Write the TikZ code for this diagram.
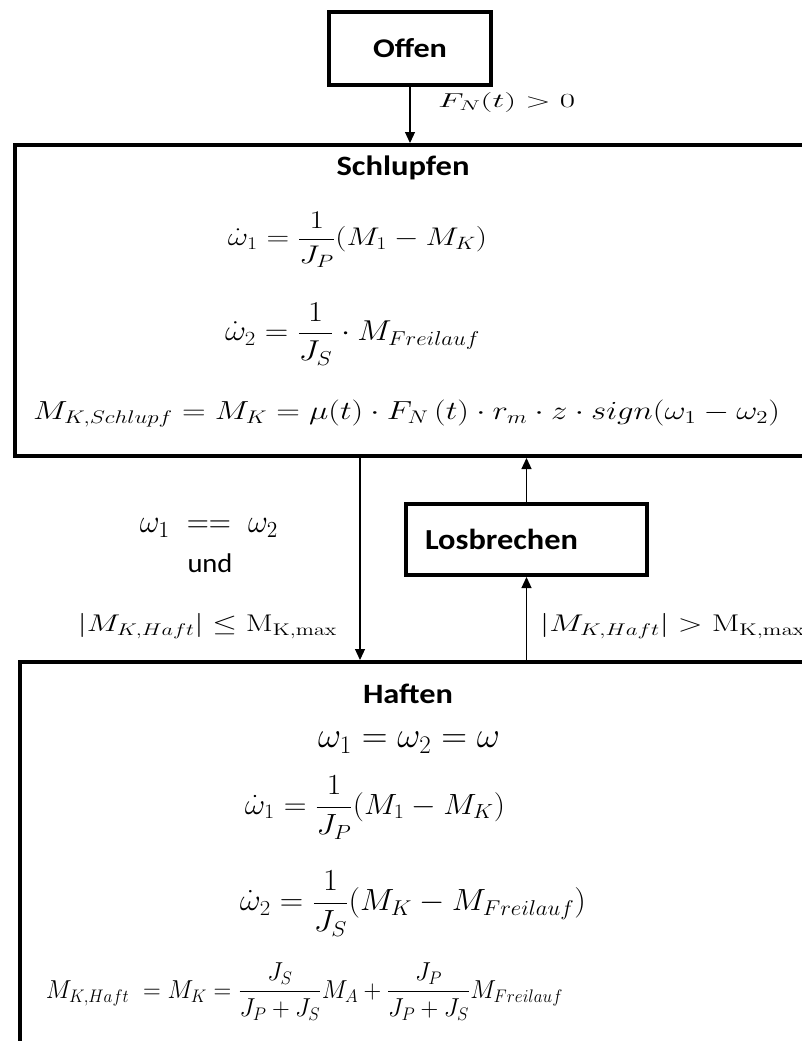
\RequirePackage{fix-cm}
\documentclass[tikz,border=0pt]{standalone}
\usepackage{amsmath}
\usepackage{graphicx}
\usepackage[no-math]{fontspec}
\setmainfont{Carlito}
\usetikzlibrary{arrows.meta}
\newcommand{\fitw}[2]{\resizebox{#1}{\height}{#2}}
\newcommand{\fitb}[3]{\resizebox*{#1}{#2}{#3}}
\newcommand{\mfs}[1]{\fontsize{#1}{#1}\selectfont}
\begin{document}
\begin{tikzpicture}[x=1pt,y=-1pt,
  box/.style={draw, line width=4pt, rectangle, inner sep=0pt},
  conn/.style={line width=1.2pt, -{Triangle[length=11pt,width=10pt]}},
  txt/.style={inner sep=0pt}]
\useasboundingbox (0,0) rectangle (802,1041);
\fill[white] (0,0) rectangle (802,1041);
\clip (0,0) rectangle (802,1041);
% boxes
\node[box, minimum width=162pt, minimum height=73pt] (offen) at (410,48.5) {\mfs{27}\bfseries\raisebox{-3pt}{\fitw{74pt}{Offen}}};
\node[box, minimum width=900pt, minimum height=311pt, anchor=north west] (schlupfen) at (13,143) {};
\node[box, minimum width=900pt, minimum height=500pt, anchor=north west] (haften) at (18,660) {};
\node[box, minimum width=241pt, minimum height=71pt] (los) at (526.5,539.5) {\mfs{29}\bfseries\makebox[203pt][l]{\raisebox{-2pt}{\fitw{153pt}{Losbrechen}}}};
% Schlupfen content
\node[txt, anchor=base] (tS) at (403,175) {\mfs{28}\bfseries\fitw{133pt}{Schlupfen}};
\node[txt] (s1) at (357.5,239.5) {\mfs{26}\fitb{259pt}{55pt}{$\displaystyle\dot\omega_1=\frac{1}{J_P}(M_1-M_K)$}};
\node[txt] (s2) at (352.5,334) {\mfs{26}\fitb{255pt}{62pt}{$\displaystyle\dot\omega_2=\frac{1}{J_S}\cdot M_{Freilauf}$}};
\node[txt] (s3) at (406.5,413.5) {\mfs{24}\fitb{747pt}{27pt}{$M_{K,Schlupf}=M_K=\mu(t)\cdot F_N\,(t)\cdot r_m\cdot z\cdot sign(\omega_1-\omega_2)$}};
% transition labels
\node[txt, anchor=west] (fn) at (438,102.5) {\mfs{24}\fitb{137pt}{20pt}{$F_N(t)>0$}};
\node[txt] (c1) at (209,527.5) {\mfs{24}\fitb{138pt}{19pt}{$\omega_1\;\mathrel{==}\;\omega_2$}};
\node[txt, anchor=base] (c2) at (210,572) {\mfs{27}\fitw{45pt}{und}};
\node[txt] (c3) at (207.5,626) {\mfs{24}\fitb{259pt}{25pt}{$\lvert M_{K,Haft}\rvert\le\mathrm{M}_{\mathrm{K,max}}$}};
\node[txt, anchor=west] (c4) at (540,626) {\mfs{24}\fitb{265pt}{25pt}{$\lvert M_{K,Haft}\rvert>\mathrm{M}_{\mathrm{K,max}}$}};
% Haften content
\node[txt, anchor=base] (tH) at (408,703) {\mfs{28}\bfseries\fitw{90pt}{Haften}};
\node[txt] (h0) at (409,742.5) {\mfs{26}\fitb{182pt}{21pt}{$\omega_1=\omega_2=\omega$}};
\node[txt] (h1) at (375,807.5) {\mfs{26}\fitb{260pt}{63pt}{$\displaystyle\dot\omega_1=\frac{1}{J_P}(M_1-M_K)$}};
\node[txt] (h2) at (413,903.5) {\mfs{26}\fitb{346pt}{66pt}{$\displaystyle\dot\omega_2=\frac{1}{J_S}(M_K-M_{Freilauf})$}};
\node[txt] (h3) at (304.5,991.5) {\mfs{21}\fitb{517pt}{57pt}{$\displaystyle M_{K,Haft}\;=M_K=\frac{J_S}{J_P+J_S}M_A+\frac{J_P}{J_P+J_S}M_{Freilauf}$}};
% connectors
\coordinate (dx) at (360,500);
\draw[conn] (offen.south) -- (offen.south |- schlupfen.north);
\draw[conn] (dx |- schlupfen.south) -- (dx |- haften.north);
\draw[conn] (los.north) -- (los.north |- schlupfen.south);
\draw[conn] (los.south |- haften.north) -- (los.south);
\end{tikzpicture}
\end{document}
